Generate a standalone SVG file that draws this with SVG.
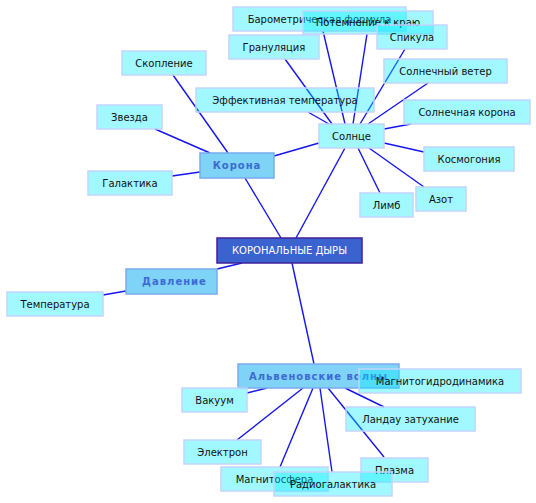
<svg xmlns="http://www.w3.org/2000/svg" width="536" height="503" viewBox="0 0 536 503">
<style>
.n rect{fill:#00eeff;fill-opacity:0.37;stroke:#c4d4ff;stroke-width:1.5}
.n text{font-family:"DejaVu Sans",sans-serif;font-size:10px;fill:#111;text-anchor:middle;dominant-baseline:central}
.s rect{fill:#7fd3f7;stroke:#7aaaf0;stroke-width:1.5}
.s text{font-family:"DejaVu Sans",sans-serif;font-size:10px;font-weight:bold;letter-spacing:1px;fill:#3c6ad2;text-anchor:middle;dominant-baseline:central}
.c rect{fill:#3a63d0;stroke:#40209a;stroke-width:1.5}
.c text{font-family:"DejaVu Sans",sans-serif;font-size:10px;fill:#fff;text-anchor:middle;dominant-baseline:central}
#edges line{stroke:#1515f0;stroke-width:1.4}
</style>
<rect width="536" height="503" fill="#fff"/>
<g id="edges">
<line x1="281" y1="238" x2="245" y2="178"/>
<line x1="296" y1="238" x2="345" y2="148"/>
<line x1="242" y1="263" x2="217" y2="269"/>
<line x1="126" y1="291" x2="103" y2="295"/>
<line x1="292" y1="263" x2="314" y2="364"/>
<line x1="173" y1="75" x2="228" y2="153"/>
<line x1="155" y1="129" x2="210" y2="153"/>
<line x1="172" y1="176" x2="200" y2="172"/>
<line x1="274" y1="156" x2="319" y2="143"/>
<line x1="285" y1="59" x2="332" y2="124"/>
<line x1="308" y1="112" x2="329" y2="124"/>
<line x1="323" y1="31" x2="345" y2="124"/>
<line x1="367" y1="34" x2="353" y2="124"/>
<line x1="405" y1="49" x2="360" y2="124"/>
<line x1="428" y1="83" x2="368" y2="124"/>
<line x1="411" y1="124" x2="384" y2="129"/>
<line x1="384" y1="143" x2="424" y2="152"/>
<line x1="369" y1="148" x2="424" y2="187"/>
<line x1="358" y1="148" x2="380" y2="193"/>
<line x1="267" y1="388" x2="247" y2="393"/>
<line x1="303" y1="388" x2="237" y2="440"/>
<line x1="313" y1="388" x2="280" y2="467"/>
<line x1="320" y1="388" x2="332" y2="472"/>
<line x1="328" y1="388" x2="384" y2="457"/>
<line x1="345" y1="388" x2="384" y2="407"/>
</g>
<g id="n-barometr" class="n"><rect x="233" y="7" width="173" height="24"/><text x="319.5" y="19">Барометрическая формула</text></g>
<g id="n-potemnenie" class="n"><rect x="303" y="11" width="130" height="23"/><text x="368" y="22.5">Потемнение к краю</text></g>
<g id="n-spikula" class="n"><rect x="377" y="25" width="70" height="24"/><text x="412" y="37">Спикула</text></g>
<g id="n-granul" class="n"><rect x="229" y="35" width="90" height="24"/><text x="274" y="47">Грануляция</text></g>
<g id="n-skoplenie" class="n"><rect x="122" y="51" width="84" height="24"/><text x="164" y="63">Скопление</text></g>
<g id="n-veter" class="n"><rect x="384" y="59" width="123" height="24"/><text x="445.5" y="71">Солнечный ветер</text></g>
<g id="n-efftemp" class="n"><rect x="196" y="88" width="178" height="24"/><text x="285" y="100">Эффективная температура</text></g>
<g id="n-zvezda" class="n"><rect x="97" y="105" width="65" height="24"/><text x="129.5" y="117">Звезда</text></g>
<g id="n-skorona" class="n"><rect x="404" y="100" width="126" height="24"/><text x="467" y="112">Солнечная корона</text></g>
<g id="n-solnce" class="n"><rect x="319" y="124" width="65" height="24"/><text x="351.5" y="136">Солнце</text></g>
<g id="n-kosmogonia" class="n"><rect x="424" y="147" width="90" height="24"/><text x="469" y="159">Космогония</text></g>
<g id="n-azot" class="n"><rect x="416" y="187" width="50" height="24"/><text x="441" y="199">Азот</text></g>
<g id="n-limb" class="n"><rect x="360" y="193" width="53" height="24"/><text x="386.5" y="205">Лимб</text></g>
<g id="n-galaktika" class="n"><rect x="88" y="171" width="84" height="24"/><text x="130" y="183">Галактика</text></g>
<g id="n-korona" class="s"><rect x="200" y="153" width="74" height="25"/><text x="237" y="165.5">Корона</text></g>
<g id="n-center" class="c"><rect x="217" y="238" width="145" height="25"/><text x="289.5" y="250.5">КОРОНАЛЬНЫЕ ДЫРЫ</text></g>
<g id="n-davlenie" class="s"><rect x="126" y="269" width="91" height="25"/><text x="174.5" y="281.5">Давление</text></g>
<g id="n-temperatura" class="n"><rect x="7" y="292" width="96" height="24"/><text x="55" y="304">Температура</text></g>
<g id="n-alfven" class="s"><rect x="238" y="364" width="161" height="24"/><text x="318.5" y="376">Альвеновские волны</text></g>
<g id="n-mgd" class="n"><rect x="359" y="369" width="162" height="24"/><text x="440" y="381">Магнитогидродинамика</text></g>
<g id="n-vakuum" class="n"><rect x="182" y="388" width="65" height="24"/><text x="214.5" y="400">Вакуум</text></g>
<g id="n-landau" class="n"><rect x="346" y="407" width="129" height="24"/><text x="410.5" y="419">Ландау затухание</text></g>
<g id="n-elektron" class="n"><rect x="184" y="440" width="77" height="24"/><text x="222.5" y="452">Электрон</text></g>
<g id="n-plazma" class="n"><rect x="361" y="458" width="67" height="24"/><text x="394.5" y="470">Плазма</text></g>
<g id="n-magnitosfera" class="n"><rect x="221" y="467" width="107" height="24"/><text x="274.5" y="479">Магнитосфера</text></g>
<g id="n-radiogal" class="n"><rect x="274" y="472" width="118" height="24"/><text x="333" y="484">Радиогалактика</text></g>
</svg>
